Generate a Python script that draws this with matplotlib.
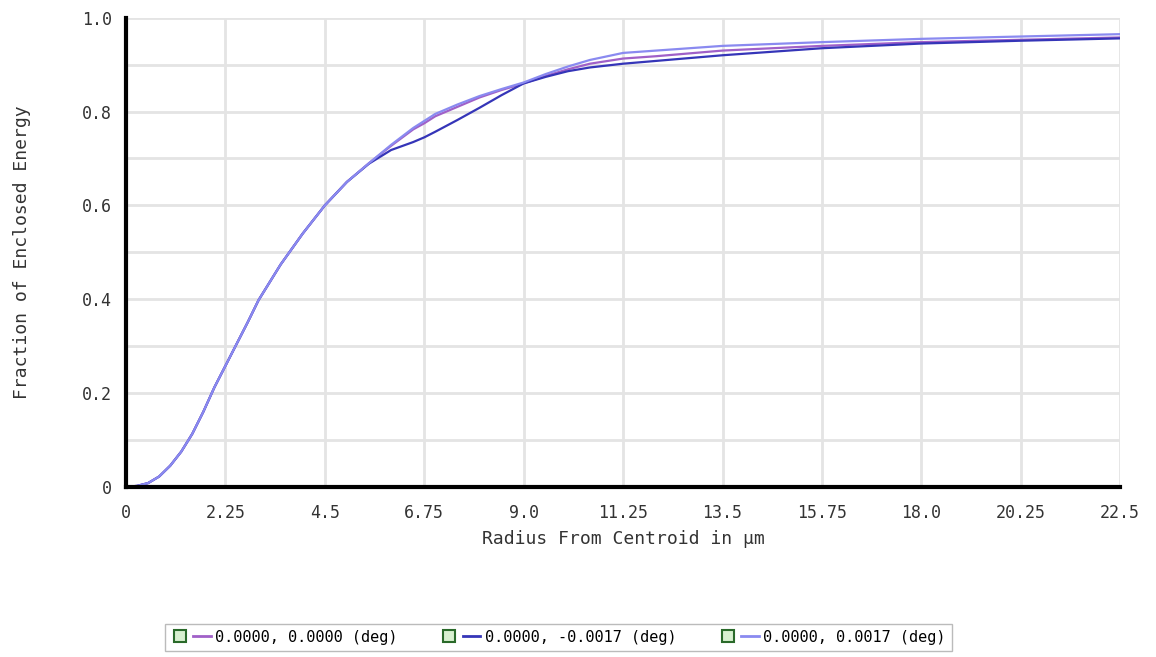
import matplotlib.pyplot as plt
from matplotlib.lines import Line2D
from matplotlib.legend_handler import HandlerTuple

radius = [0, 0.25, 0.5, 0.75, 1.0, 1.25, 1.5, 1.75, 2.0, 2.25, 2.5, 2.75, 3.0, 3.5, 4.0,
          4.5, 5.0, 5.5, 6.0, 6.5, 6.75, 7.0, 7.5, 8.0, 8.5, 9.0, 9.5, 10.0, 10.5, 11.25,
          12.0, 13.5, 15.75, 18.0, 20.25, 22.5]

ee_center = [0, 0.002, 0.008, 0.022, 0.045, 0.075, 0.113, 0.16, 0.212, 0.258, 0.304, 0.35,
             0.398, 0.474, 0.54, 0.60, 0.65, 0.69, 0.727, 0.762, 0.775, 0.79, 0.81, 0.83,
             0.846, 0.86, 0.876, 0.89, 0.902, 0.913, 0.918, 0.93, 0.94, 0.948, 0.953, 0.958]
ee_minus = [0, 0.002, 0.008, 0.022, 0.045, 0.075, 0.113, 0.16, 0.212, 0.258, 0.304, 0.35,
            0.398, 0.474, 0.54, 0.60, 0.65, 0.689, 0.718, 0.735, 0.745, 0.757, 0.782, 0.808,
            0.835, 0.86, 0.874, 0.886, 0.894, 0.902, 0.908, 0.92, 0.935, 0.945, 0.951, 0.956]
ee_plus = [0, 0.002, 0.008, 0.022, 0.045, 0.075, 0.113, 0.16, 0.212, 0.258, 0.304, 0.35,
           0.398, 0.474, 0.54, 0.60, 0.65, 0.69, 0.729, 0.765, 0.78, 0.795, 0.815, 0.833,
           0.848, 0.862, 0.88, 0.896, 0.91, 0.925, 0.93, 0.94, 0.948, 0.955, 0.96, 0.965]

labels = ["0.0000, 0.0000 (deg)", "0.0000, -0.0017 (deg)", "0.0000, 0.0017 (deg)"]
colors = ["#a060c8", "#3535b8", "#8a8af0"]

x_ticks = [0, 2.25, 4.5, 6.75, 9.0, 11.25, 13.5, 15.75, 18.0, 20.25, 22.5]
x_tick_labels = ["0", "2.25", "4.5", "6.75", "9.0", "11.25", "13.5", "15.75", "18.0", "20.25", "22.5"]
y_ticks = [0, 0.2, 0.4, 0.6, 0.8, 1.0]
y_tick_labels = ["0", "0.2", "0.4", "0.6", "0.8", "1.0"]

plt.rcParams['font.family'] = ['DejaVu Sans Mono']

fig = plt.figure(figsize=(11.56, 6.57), dpi=100)
ax = fig.add_axes([0.109, 0.259, 0.860, 0.714])

for ys, c, lab in zip([ee_center, ee_minus, ee_plus], colors, labels):
    ax.plot(radius, ys, color=c, lw=1.6, label=lab)

ax.set_xlim(0, 22.5)
ax.set_ylim(0, 1.0)
ax.set_xticks(x_ticks)
ax.set_xticklabels(x_tick_labels)
ax.set_yticks(y_ticks)
ax.set_yticklabels(y_tick_labels)
ax.set_yticks([0.1, 0.3, 0.5, 0.7, 0.9], minor=True)
ax.grid(True, which='both', color='#e4e4e4', lw=2)
ax.set_axisbelow(True)
ax.tick_params(length=0, labelsize=12, colors='#333333')
ax.tick_params(axis='x', pad=12)
ax.tick_params(axis='y', pad=10)
ax.tick_params(which='minor', length=0)

for s in ['top', 'right']:
    ax.spines[s].set_visible(False)
for s in ['left', 'bottom']:
    ax.spines[s].set_linewidth(3)
    ax.spines[s].set_color('black')

ax.set_xlabel("Radius From Centroid in µm", fontsize=13, color='#333333', labelpad=6)
ax.set_ylabel("Fraction of Enclosed Energy", fontsize=13, color='#333333', labelpad=37)

handles = []
for c in colors:
    box = Line2D([], [], marker='s', ls='none', ms=9, mfc='#d8f0d0', mec='#2a6a2a', mew=1.5)
    ln = Line2D([], [], color=c, lw=2)
    handles.append((box, ln))
leg = fig.legend(handles, labels, loc='center', bbox_to_anchor=(0.483, 0.03), ncol=3,
                 handler_map={tuple: HandlerTuple(ndivide=None, pad=0.3)},
                 handlelength=2.6, fontsize=11, frameon=True, fancybox=False,
                 edgecolor='#aaaaaa', columnspacing=2.8, handletextpad=0.3,
                 borderpad=0.4)
leg.get_frame().set_linewidth(1)

fig.savefig("out.png", dpi=100)
